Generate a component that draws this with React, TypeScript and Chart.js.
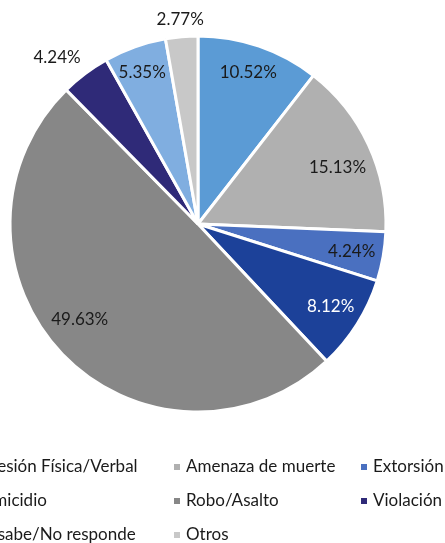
import React, { useEffect, useRef } from "react";
import { Chart, registerables } from "chart.js";

Chart.register(...registerables);

const categories = [
  "Agresión Física/Verbal",
  "Amenaza de muerte",
  "Extorsión",
  "Homicidio",
  "Robo/Asalto",
  "Violación",
  "No sabe/No responde",
  "Otros",
];
const values = [10.52, 15.13, 4.24, 8.12, 49.63, 4.24, 5.35, 2.77];
const valueLabels = ["10.52%", "15.13%", "4.24%", "8.12%", "49.63%", "4.24%", "5.35%", "2.77%"];

const sliceColors = ["#5B9BD5", "#B0B0B0", "#4A70C0", "#1C4199", "#878787", "#2F2A78", "#80AEE0", "#C8C8C8"];
const labelTextColors = ["#1a1a1a", "#1a1a1a", "#1a1a1a", "#ffffff", "#1a1a1a", "#1a1a1a", "#1a1a1a", "#1a1a1a"];
// radial placement factor and angle nudge (deg) for each data label
const labelRadius = [0.85, 0.8, 0.83, 0.83, 0.81, 1.16, 0.86, 1.09];
const labelAngleNudge = [-0.6, 3, 0, -0.5, 4.8, -3.4, -0.6, 0];

const FONT = "Lato, 'Open Sans', sans-serif";

const legendCols = [-29, 186, 373];
const legendRows = [467, 501, 535];

const dataLabelPlugin = {
  id: "dataLabels",
  afterDatasetsDraw(chart: any) {
    const ctx = chart.ctx;
    const meta = chart.getDatasetMeta(0);
    ctx.save();
    ctx.font = `17px ${FONT}`;
    ctx.textAlign = "center";
    ctx.textBaseline = "middle";
    meta.data.forEach((arc: any, i: number) => {
      const p = arc.getProps(["x", "y", "startAngle", "endAngle", "outerRadius"], true);
      const mid = (p.startAngle + p.endAngle) / 2 + (labelAngleNudge[i] * Math.PI) / 180;
      const r = p.outerRadius * labelRadius[i];
      ctx.fillStyle = labelTextColors[i];
      ctx.fillText(valueLabels[i], p.x + Math.cos(mid) * r, p.y + Math.sin(mid) * r);
    });
    ctx.restore();
  },
};

const legendPlugin = {
  id: "gridLegend",
  afterDraw(chart: any) {
    const ctx = chart.ctx;
    const labels = chart.data.labels as string[];
    const bg = chart.data.datasets[0].backgroundColor as string[];
    ctx.save();
    ctx.font = `17px ${FONT}`;
    ctx.textAlign = "left";
    ctx.textBaseline = "middle";
    labels.forEach((lab, i) => {
      const col = i % 3;
      const row = Math.floor(i / 3);
      const x = legendCols[col];
      const y = legendRows[row];
      ctx.fillStyle = bg[i];
      ctx.fillRect(x - 12, y - 3, 6, 6);
      ctx.fillStyle = "#1a1a1a";
      ctx.fillText(lab, x, y);
    });
    ctx.restore();
  },
};

export default function App() {
  const ref = useRef<HTMLCanvasElement | null>(null);
  useEffect(() => {
    if (!ref.current) return;
    const chart = new Chart(ref.current, {
      type: "pie",
      data: {
        labels: categories,
        datasets: [
          {
            data: values,
            backgroundColor: sliceColors,
            borderColor: "#ffffff",
            borderWidth: 3,
            hoverOffset: 0,
          },
        ],
      },
      options: {
        animation: false,
        responsive: false,
        radius: 188,
        layout: { padding: { left: 10, right: 59, top: 36, bottom: 131 } },
        plugins: {
          legend: { display: false },
          tooltip: { enabled: false },
          title: { display: false },
        },
      } as any,
      plugins: [dataLabelPlugin, legendPlugin],
    });
    return () => chart.destroy();
  }, []);
  return (
    <div style={{ position: "fixed", left: 0, top: 0, width: 445, height: 543, background: "#fff" }}>
      <canvas ref={ref} width={445} height={543} style={{ display: "block", width: 445, height: 543 }} />
    </div>
  );
}
